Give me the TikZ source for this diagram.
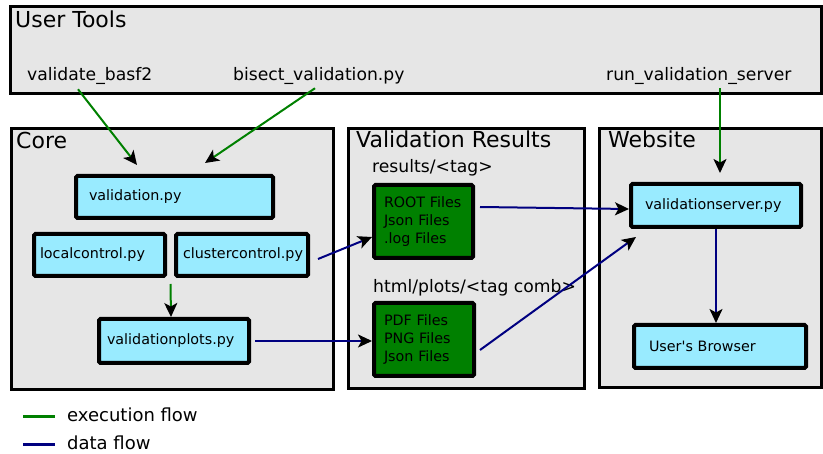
\documentclass[tikz,border=0pt]{standalone}
\usepackage{fontspec}
\setmainfont{DejaVu Sans}
\usetikzlibrary{arrows.meta,calc,positioning}

\definecolor{boxcyan}{RGB}{153,235,255}
\definecolor{filegreen}{RGB}{0,128,0}
\definecolor{groupgray}{RGB}{230,230,230}
\definecolor{execgreen}{RGB}{0,128,0}
\definecolor{datablue}{RGB}{0,0,128}

\newcommand{\titlefont}{\fontsize{22}{26}\selectfont}
\newcommand{\toolfont}{\fontsize{17.2}{20}\selectfont}
\newcommand{\boxfont}{\fontsize{14.3}{18}\selectfont}
\newcommand{\legendfont}{\fontsize{18}{21}\selectfont}

\begin{document}
\begin{tikzpicture}
[x=1pt, y=-1pt,
group/.style={draw=black, line width=3pt, fill=groupgray},
title/.style={anchor=base west, inner sep=0pt, font=\titlefont},
tool/.style={anchor=base west, inner sep=0pt, font=\toolfont},
pybox/.style={draw=black, line width=4pt, fill=boxcyan, rounded corners=1.5pt,
font=\boxfont, align=left, minimum height=42pt, inner ysep=0pt},
filebox/.style={draw=black, line width=4pt, fill=filegreen, rounded corners=1.5pt,
font=\boxfont, align=left, minimum height=73pt, inner ysep=0pt},
exec/.style={draw=execgreen, line width=2pt,
-{Stealth[length=14pt,width=13pt,inset=3.5pt,color=black]}},
data/.style={draw=datablue, line width=2pt,
-{Stealth[length=14pt,width=13pt,inset=3.5pt,color=black]}}]

\useasboundingbox (0,0) rectangle (823,454);

% Draw groups
\draw[group] (10.5,6.5) rectangle (821,93.5);
\draw[group] (11.5,128.5) rectangle (333.5,389.5);
\draw[group] (348.5,128.5) rectangle (584.5,388.5);
\draw[group] (599.5,128.5) rectangle (821,387.5);

\node[title] (tooltitle) at (15,28) {User Tools};
\node[title] (coretitle) at (16,149) {Core};
\node[title] (restitle) at (356,148) {Validation Results};
\node[title] (webtitle) at (608,148) {Website};

% Draw tools and folders
\node[tool] (basf2) at (27,81) {validate\_basf2};
\node[tool] (bisect) at (233,81) {bisect\_validation.py};
\node[tool] (runserver) at (606,81) {run\_validation\_server};
\node[tool] (restag) at (372,173) {results/<tag>};
\node[tool] (plotstag) at (373,293) {html/plots/<tag comb>};

% Draw boxes
\node[pybox, text width=171pt, inner xsep=13pt] (valpy) at (174.5,197) {validation.py};
\node[pybox, text width=119pt, inner xsep=6pt] (localctl) at (99.5,255) {localcontrol.py};
\node[pybox, text width=118pt, inner xsep=7pt] (clusterctl) at (242,255) {clustercontrol.py};
\node[pybox, text width=134pt, inner xsep=8pt, minimum height=44pt] (valplots) at (174,341) {validationplots.py};
\node[filebox, text width=79pt, inner xsep=10pt] (rootfiles) at (423.5,221.5) {ROOT Files\\Json Files\\.log Files};
\node[filebox, text width=80pt, inner xsep=10pt] (pdffiles) at (424,339.5) {PDF Files\\PNG Files\\Json Files};
\node[pybox, text width=142pt, inner xsep=14pt, minimum height=43pt] (valserver) at (716,205.5) {validationserver.py};
\node[pybox, text width=142pt, inner xsep=15pt, minimum height=43pt] (browser) at (720,346.5) {User\textquotesingle s Browser};

% Execution flow
\draw[exec] ([xshift=51pt,yshift=-4pt]basf2.south west) -- ([xshift=-37.5pt,yshift=9pt]valpy.north);
\draw[exec] ([xshift=82pt,yshift=-3pt]bisect.south west) -- ([xshift=30.5pt,yshift=11pt]valpy.north);
\draw[exec] ([xshift=114pt,yshift=-3pt]runserver.south west) -- ([xshift=4pt,yshift=9pt]valserver.north);
\draw[exec] ([yshift=-6pt]$(localctl.south east)!0.5!(clusterctl.south west)$) -- ([xshift=-3pt]valplots.north);

% Data flow
\draw[data] ([xshift=8pt,yshift=-4pt]clusterctl.east) -- ([yshift=-15.5pt]rootfiles.west);
\draw[data] ([xshift=4pt]valplots.east) -- (valplots.east -| pdffiles.west);
\draw[data] ([xshift=5pt,yshift=14.5pt]rootfiles.east) -- ([yshift=-3.5pt]valserver.west);
\draw[data] ([xshift=4pt,yshift=-10.5pt]pdffiles.east) -- ([xshift=7pt,yshift=-8pt]valserver.south west);
\draw[data] (valserver.south) -- (valserver.south |- browser.north);

% Legend
\node[tool, font=\legendfont] (execlbl) at (67,422) {execution flow};
\node[tool, font=\legendfont] (datalbl) at (67,450) {data flow};
\draw[execgreen, line width=3pt] ([xshift=-44pt,yshift=-1.5pt]execlbl.west) -- ([xshift=-12pt,yshift=-1.5pt]execlbl.west);
\draw[datablue, line width=3pt] ([xshift=-44pt,yshift=-1.5pt]datalbl.west) -- ([xshift=-12pt,yshift=-1.5pt]datalbl.west);

\end{tikzpicture}
\end{document}
